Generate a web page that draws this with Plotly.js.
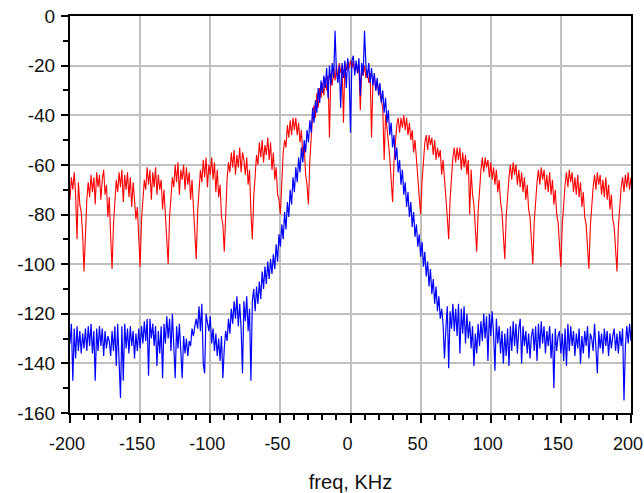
<!DOCTYPE html>
<html>
<head>
<meta charset="utf-8">
<script src="https://cdn.plot.ly/plotly-3.0.1.min.js"></script>
<style>html,body{margin:0;padding:0;background:#fff;}#chart{width:644px;height:493px;}</style>
</head>
<body>
<div id="chart"></div>
<script>
// Frequency grid (kHz): bins from -200 to 200, 1 kHz apart
const FREQ_START = -200;
const FREQ_STEP = 1;

// Red spectrum (dB), one value per kHz bin, -200 ... 200
const redDb = [
-74,-65,-70,-63,-72,-90,-67,-76,-79,-88,
-103,
-86,-74,-67,-73,-64,-71,-65,-76,-63,
-69,-64,-74,-66,-62,-72,-68,-81,-73,-89,
-102,
-84,-73,-66,-71,-63,-69,-62,-75,-64,
-70,-63,-73,-65,-77,-67,-74,-82,-77,-91,
-101,
-82,-72,-66,-70,-61,-68,-62,-74,-63,
-69,-61,-72,-64,-70,-66,-78,-70,-80,-88,
-100,
-81,-71,-65,-69,-60,-67,-59,-72,-62,
-66,-60,-70,-61,-68,-63,-74,-66,-77,-86,
-98,
-79,-69,-62,-67,-58,-65,-57,-69,-60,
-64,-57,-66,-59,-71,-62,-73,-68,-81,-84,
-95,
-77,-66,-59,-63,-55,-61,-54,-64,-56,
-61,-53,-63,-55,-58,-64,-57,-68,-62,-79,
-90,
-73,-62,-56,-60,-51,-57,-50,-59,-52,
-56,-49,-58,-51,-62,-55,-66,-61,-72,-74,
-80,
-65,-55,-50,-53,-44,-49,-42,-48,-41,
-46,-41,-48,-43,-51,-46,-57,-52,-64,-68,
-76,
-58,-47,-40,-36,-41,-31,-37,-29,-33,
-27,-32,-25,-30,-24,-49,-23,-28,-21,-26,
-20,-25,-19,-23,-20,-43,-19,-22,-18,-21,
-18,
-21,-18,-22,-19,-23,-20,-38,-21,-24,-20,
-25,-22,-27,-23,-49,-26,-24,-30,-27,-29,
-32,-34,-37,-58,-40,-45,-50,-57,-66,
-75,
-59,-49,-44,-41,-47,-41,-45,-40,-46,
-41,-48,-43,-50,-46,-55,-50,-60,-65,-73,
-80,
-67,-57,-51,-48,-54,-48,-52,-49,-56,
-50,-58,-53,-57,-54,-64,-58,-68,-73,-81,
-90,
-74,-63,-57,-53,-59,-53,-58,-53,-62,
-55,-61,-56,-64,-58,-80,-62,-72,-76,-85,
-95,
-79,-68,-62,-57,-63,-57,-61,-58,-65,
-59,-66,-61,-68,-62,-71,-66,-75,-79,-87,
-98,
-81,-71,-65,-60,-66,-59,-64,-60,-68,
-62,-69,-63,-71,-65,-74,-68,-78,-81,-89,
-100,
-83,-73,-67,-62,-68,-61,-66,-62,-70,
-64,-71,-63,-72,-66,-76,-70,-80,-83,-91,
-101,
-84,-74,-68,-63,-69,-62,-67,-63,-71,
-65,-72,-64,-73,-67,-77,-71,-81,-84,-92,
-102,
-85,-75,-69,-64,-70,-63,-68,-64,-72,
-66,-73,-65,-74,-68,-78,-72,-82,-85,-93,
-103,
-85,-75,-69,-65,-71,-64,-69,-63,-70,-65
];

// Blue spectrum (dB), one value per kHz bin, -200 ... 200
const blueDb = [
-132,-124,-147,-126,-138,-125,-135,-127,-136,-128,
-134,-126,-135,-125,-133,-124,-136,-127,-147,-126,
-135,-125,-133,-126,-137,-127,-134,-129,-131,-137,
-127,-135,-125,-141,-124,-139,-154,-125,-147,-124,
-134,-126,-136,-125,-133,-127,-138,-128,-135,-126,
-134,-125,-132,-123,-131,-122,-145,-122,-130,-124,
-133,-125,-141,-127,-136,-125,-146,-124,-132,-121,
-130,-122,-135,-120,-131,-146,-125,-134,-124,-139,
-146,-129,-136,-130,-137,-131,-133,-126,-129,-125,
-122,-126,-117,-127,-116,-140,-144,-120,-123,-127,
-121,-132,-126,-135,-128,-137,-130,-139,-129,-146,
-134,-127,-131,-122,-128,-118,-124,-115,-122,-113,
-125,-116,-126,-144,-115,-123,-113,-127,-118,-147,
-115,-110,-119,-109,-116,-107,-114,-103,-110,-101,
-108,-99,-106,-98,-104,-96,-102,-92,-99,-88,
-93,-84,-90,-79,-86,-75,-81,-70,-76,-65,
-71,-61,-67,-57,-63,-53,-59,-50,-55,-46,
-51,-42,-47,-37,-43,-34,-39,-29,-35,-26,
-31,-24,-29,-21,-33,-20,-28,-19,-25,-6,
-23,-27,-20,-37,-19,-25,-18,-29,-17,-23,
-47,
-18,-16,-24,-18,-23,-17,-32,-19,-24,-6,
-20,-25,-19,-27,-21,-28,-23,-30,-25,-32,
-27,-35,-30,-39,-33,-43,-38,-48,-43,-53,
-48,-58,-53,-63,-58,-68,-62,-72,-67,-77,
-71,-81,-75,-85,-79,-89,-84,-93,-88,-97,
-91,-101,-95,-105,-99,-109,-102,-112,-106,-116,
-109,-119,-113,-122,-118,-124,-138,-126,-117,-142,
-119,-126,-116,-127,-118,-129,-116,-136,-118,-128,
-117,-132,-120,-130,-123,-134,-125,-141,-128,-136,
-124,-133,-123,-131,-120,-130,-121,-139,-120,-129,
-119,-128,-143,-122,-132,-125,-136,-127,-140,-128,
-137,-126,-141,-125,-135,-123,-133,-124,-136,-126,
-122,-140,-125,-133,-127,-136,-128,-138,-129,-126,
-135,-125,-139,-124,-134,-123,-132,-125,-136,-127,
-133,-125,-138,-128,-150,-126,-135,-129,-127,-136,
-128,-139,-126,-141,-124,-135,-125,-133,-127,-137,
-128,-134,-126,-140,-129,-136,-127,-133,-125,-138,
-128,-130,-135,-124,-133,-144,-127,-134,-128,-136,
-126,-133,-127,-137,-128,-134,-129,-126,-135,-128,
-136,-127,-133,-126,-155,-133,-125,-132,-124,-131
];

// Axis tick values and labels
const xTickVals = [-200, -150, -100, -50, 0, 50, 100, 150, 200];
const xTickText = ['-200', '-150', '-100', '-50', '0', '50', '100', '150', '200'];
const yTickVals = [0, -20, -40, -60, -80, -100, -120, -140, -160];
const yTickText = ['0', '-20', '-40', '-60', '-80', '-100', '-120', '-140', '-160'];
const xTitle = 'freq, KHz';

const freq = redDb.map((_, i) => FREQ_START + i * FREQ_STEP);

const traces = [
  {x: freq, y: redDb, type: 'scatter', mode: 'lines',
   line: {color: '#ff0000', width: 1.1}, hoverinfo: 'skip', showlegend: false},
  {x: freq, y: blueDb, type: 'scatter', mode: 'lines',
   line: {color: '#0000ff', width: 1.2}, hoverinfo: 'skip', showlegend: false}
];

const FONT = 'Liberation Sans, Arial, sans-serif';

const layout = {
  width: 644, height: 493,
  margin: {l: 70, r: 13, t: 16, b: 80, pad: 0},
  paper_bgcolor: '#ffffff', plot_bgcolor: '#ffffff',
  showlegend: false,
  xaxis: {
    range: [-200, 200], autorange: false,
    tickmode: 'array', tickvals: xTickVals, ticktext: xTickText,
    ticks: 'outside', ticklen: 8, tickwidth: 2, tickcolor: '#000',
    showline: true, linecolor: '#000', linewidth: 2, mirror: true,
    showgrid: true, gridcolor: '#c0c0c0', gridwidth: 2, zeroline: false,
    tickfont: {family: FONT, size: 18, color: '#111'},
    ticklabelstandoff: 5, ticklabelshift: -3, ticklabeloverflow: 'allow',
    minor: {dtick: 10, tick0: 0, ticks: 'outside', ticklen: 5, tickwidth: 2, tickcolor: '#000', showgrid: false},
    title: {text: xTitle, font: {family: FONT, size: 20, color: '#111'}, standoff: 25}
  },
  yaxis: {
    range: [-160, 0], autorange: false,
    tickmode: 'array', tickvals: yTickVals, ticktext: yTickText,
    ticks: 'outside', ticklen: 7, tickwidth: 2, tickcolor: '#000',
    showline: true, linecolor: '#000', linewidth: 2, mirror: true,
    showgrid: true, gridcolor: '#c0c0c0', gridwidth: 2, zeroline: false,
    tickfont: {family: FONT, size: 19, color: '#111'},
    ticklabelstandoff: 2, ticklabeloverflow: 'allow',
    minor: {dtick: 10, tick0: 0, ticks: 'outside', ticklen: 5, tickwidth: 2, tickcolor: '#000', showgrid: false}
  }
};

Plotly.newPlot('chart', traces, layout, {displayModeBar: false, staticPlot: true});
</script>
</body>
</html>
